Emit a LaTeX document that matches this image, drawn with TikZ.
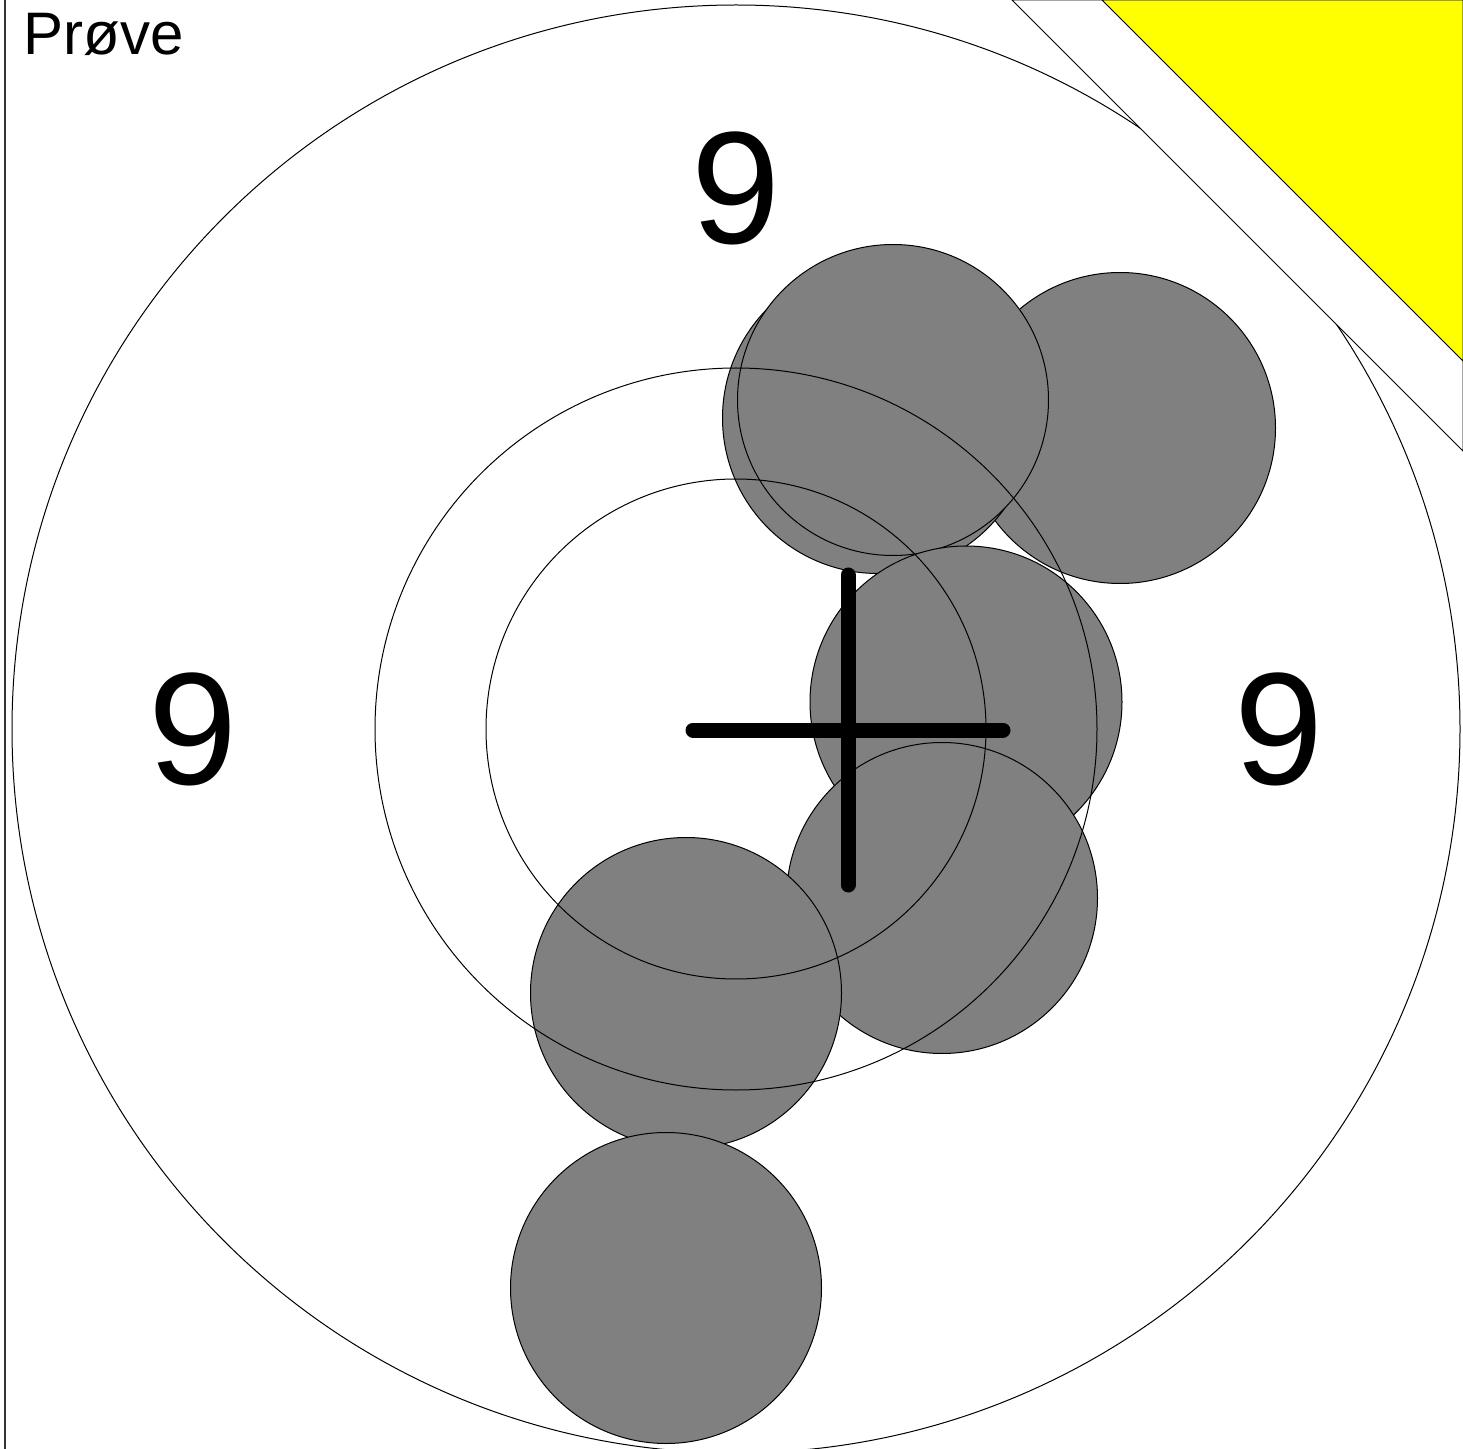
\documentclass[tikz,border=0pt]{standalone}
\usepackage{fontspec}
\setmainfont{Liberation Sans}
\definecolor{shotgray}{HTML}{808080}
\definecolor{flagyellow}{HTML}{FFFF00}
\tikzset{
  ring/.style={draw=black, line width=0.5pt},
  shot/.style={fill=shotgray, draw=black, line width=0.5pt},
  score/.style={inner sep=0pt, font=\fontsize{80pt}{80pt}\selectfont},
  crossbar/.style={line width=7.5pt, line cap=round},
}
\begin{document}
\begin{tikzpicture}[x=0.5pt, y=-0.5pt]
\useasboundingbox (0,0) rectangle (1463,1449);
\clip (0,0) rectangle (1463,1449);
\fill[white] (0,0) rectangle (1463,1449);
% left border
\draw[line width=0.6pt, black!80] (5,0) -- (5,1449);
% shots (drawn in order, opaque)
\coordinate (c) at (736,729);
\draw[shot] (1120,428) circle (155.5);
\draw[shot] (878,418) circle (155.5);
\draw[shot] (893,400) circle (155.5);
\draw[shot] (966,702) circle (156);
\draw[shot] (942,898) circle (155.5);
\draw[shot] (686,993) circle (155.5);
\draw[shot] (666,1288) circle (155.5);
% rings
\draw[ring] (c) circle (724);
\draw[ring] (c) circle (361);
\draw[ring] (c) circle (250);
% corner
\draw[fill=white, line width=0.5pt] (1012,0) -- (1463,451) -- (1463,0) -- cycle;
\draw[fill=flagyellow, line width=0.5pt] (1102,0) -- (1463,361) -- (1463,0) -- cycle;
% score numbers
\node[score] (ntop) at (736,188) {9};
\node[score] (nleft) at (193,729) {9};
\node[score] (nright) at (1279,729) {9};
% title
\node[anchor=base west, inner sep=0pt, font=\fontsize{30pt}{30pt}\selectfont] (title) at (23,55) {Prøve};
% cross (mean point of impact)
\coordinate (m) at (848,730);
\draw[crossbar] ([xshift=-77.5pt]m) -- ([xshift=77.5pt]m);
\draw[crossbar] ([yshift=77.5pt]m) -- ([yshift=-77.5pt]m);
\end{tikzpicture}
\end{document}
